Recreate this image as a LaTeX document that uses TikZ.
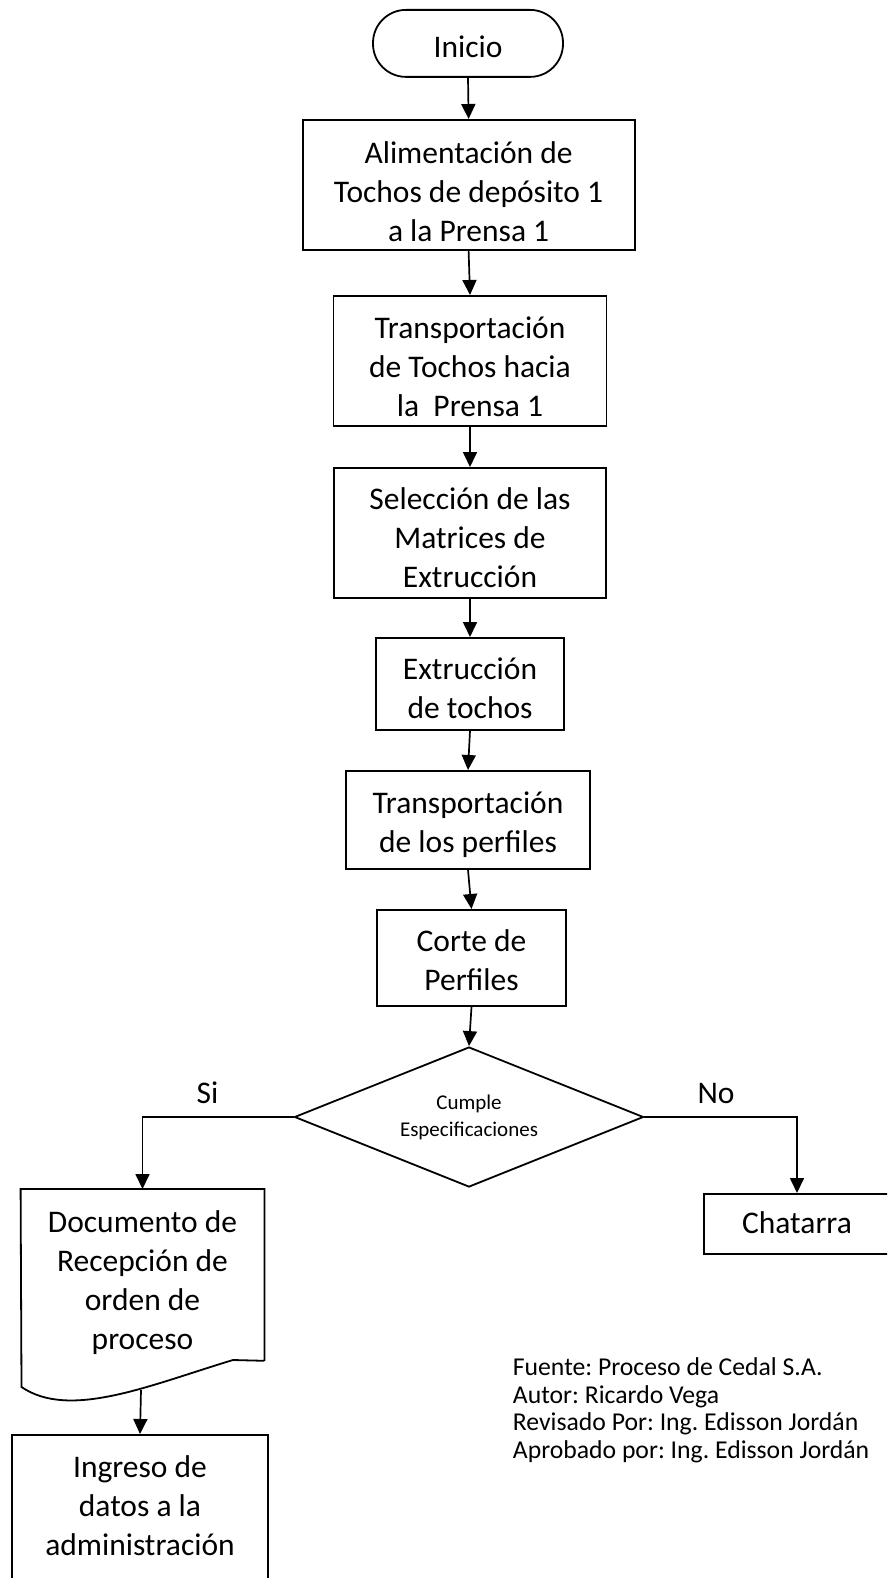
\documentclass[tikz,border=0pt]{standalone}
\usepackage{fontspec}
\setmainfont{Carlito}
\usetikzlibrary{arrows.meta,shapes.geometric,calc}
\frenchspacing
\newcommand\flowfont{\fontsize{31.5}{39}\selectfont}
\newcommand\smallflow{\fontsize{21}{27}\selectfont}
\newcommand\notefont{\fontsize{25.7}{27.4}\selectfont}
% struts: gap from the box top to the first baseline, and from the last baseline to the box bottom
\newcommand\tgap[1]{\rule{0pt}{#1pt}}
\newcommand\bgap[1]{\rule[-#1pt]{0pt}{#1pt}}

\begin{document}
\begin{tikzpicture}[x=1pt,y=-1pt,line width=1.8pt,
  arr/.style={-{Triangle[length=15pt,width=14pt]},line width=1.7pt},
  box/.style={draw,rectangle,inner sep=0pt,align=center,font=\flowfont,anchor=north},
  term/.style={box,rounded corners=33pt},
  plain/.style={inner sep=0pt,align=center,font=\flowfont}]
\useasboundingbox (0,0) rectangle (887,1578);
\clip (0,0) rectangle (887,1578);

% main column
\node[term,minimum width=190pt] (inicio) at (468,9) {\tgap{48}Inicio\bgap{19}};
\node[box,minimum width=332pt] (alim) at (468.6,119)
  {\tgap{44}Alimentación de\\Tochos de depósito 1\\a la Prensa 1\bgap{8}};
\node[box,minimum width=273pt] (tr1) at (470,295)
  {\tgap{43}Transportación\\de Tochos hacia\\la\ \ Prensa 1\bgap{9}};
\node[box,minimum width=272pt] (sel) at (470,467)
  {\tgap{42}Selección de las\\Matrices de\\Extrucción\bgap{10}};
\node[box,minimum width=188pt] (ext) at (470,637)
  {\tgap{42}Extrucción\\de tochos\bgap{11}};
\node[box,minimum width=244pt] (tr2) at (468,770)
  {\tgap{43}Transportación\\de los perfiles\bgap{16}};
\node[box,minimum width=189pt] (corte) at (471.5,909)
  {\tgap{42}Corte de\\Perfiles\bgap{15}};
\node[draw,diamond,aspect=2.5,minimum width=349pt,minimum height=140pt,
  inner sep=0pt,align=center,font=\smallflow] (dec) at (469,1117)
  {Cumple\\Especificaciones};

% branch labels
\node[plain,anchor=base] (si) at (207.5,1103) {Si};
\node[plain,anchor=base] (no) at (716,1103) {No};

% rejected branch
\node[box,minimum width=186pt] (chat) at (797,1193) {\tgap{40}Chatarra\bgap{20}};

% accepted branch: document symbol
\node[box,draw=none,minimum width=242pt] (doc) at (142.5,1189)
  {\tgap{43}Documento de\\Recepción de\\orden de\\proceso\bgap{10}};
\draw (doc.south east) -- (doc.north east) -- (doc.north west) -- (21.5,1387)
  .. controls (70,1420) and (150,1385) .. (233,1360) -- (doc.south east);
\coordinate (docbot) at (141,1390);

% final step (box runs past the lower edge)
\node[box,minimum width=256pt] (ing) at (140,1434)
  {\tgap{43}Ingreso de\\datos a la\\administración\bgap{70}};

% connectors
\draw[arr] (inicio.south) -- (alim.north);
\draw[arr] (alim.south) -- (tr1.north);
\draw[arr] (tr1.south) -- (sel.north);
\draw[arr] (sel.south) -- (ext.north);
\draw[arr] (ext.south) -- (tr2.north);
\draw[arr] (tr2.south) -- (corte.north);
\draw[arr] (corte.south) -- (dec.north);
\draw[arr] (dec.west) -| (doc.north);
\draw[arr] (dec.east) -| (chat.north);
\draw[arr] (docbot) -- (ing.north);

% credits
\node[inner sep=0pt,align=left,anchor=north west,font=\notefont] (note) at (512,1350)
  {\tgap{25}Fuente: Proceso de Cedal S.A.\\Autor: Ricardo Vega\\Revisado Por: Ing. Edisson Jordán\\Aprobado por: Ing. Edisson Jordán};
\end{tikzpicture}
\end{document}
